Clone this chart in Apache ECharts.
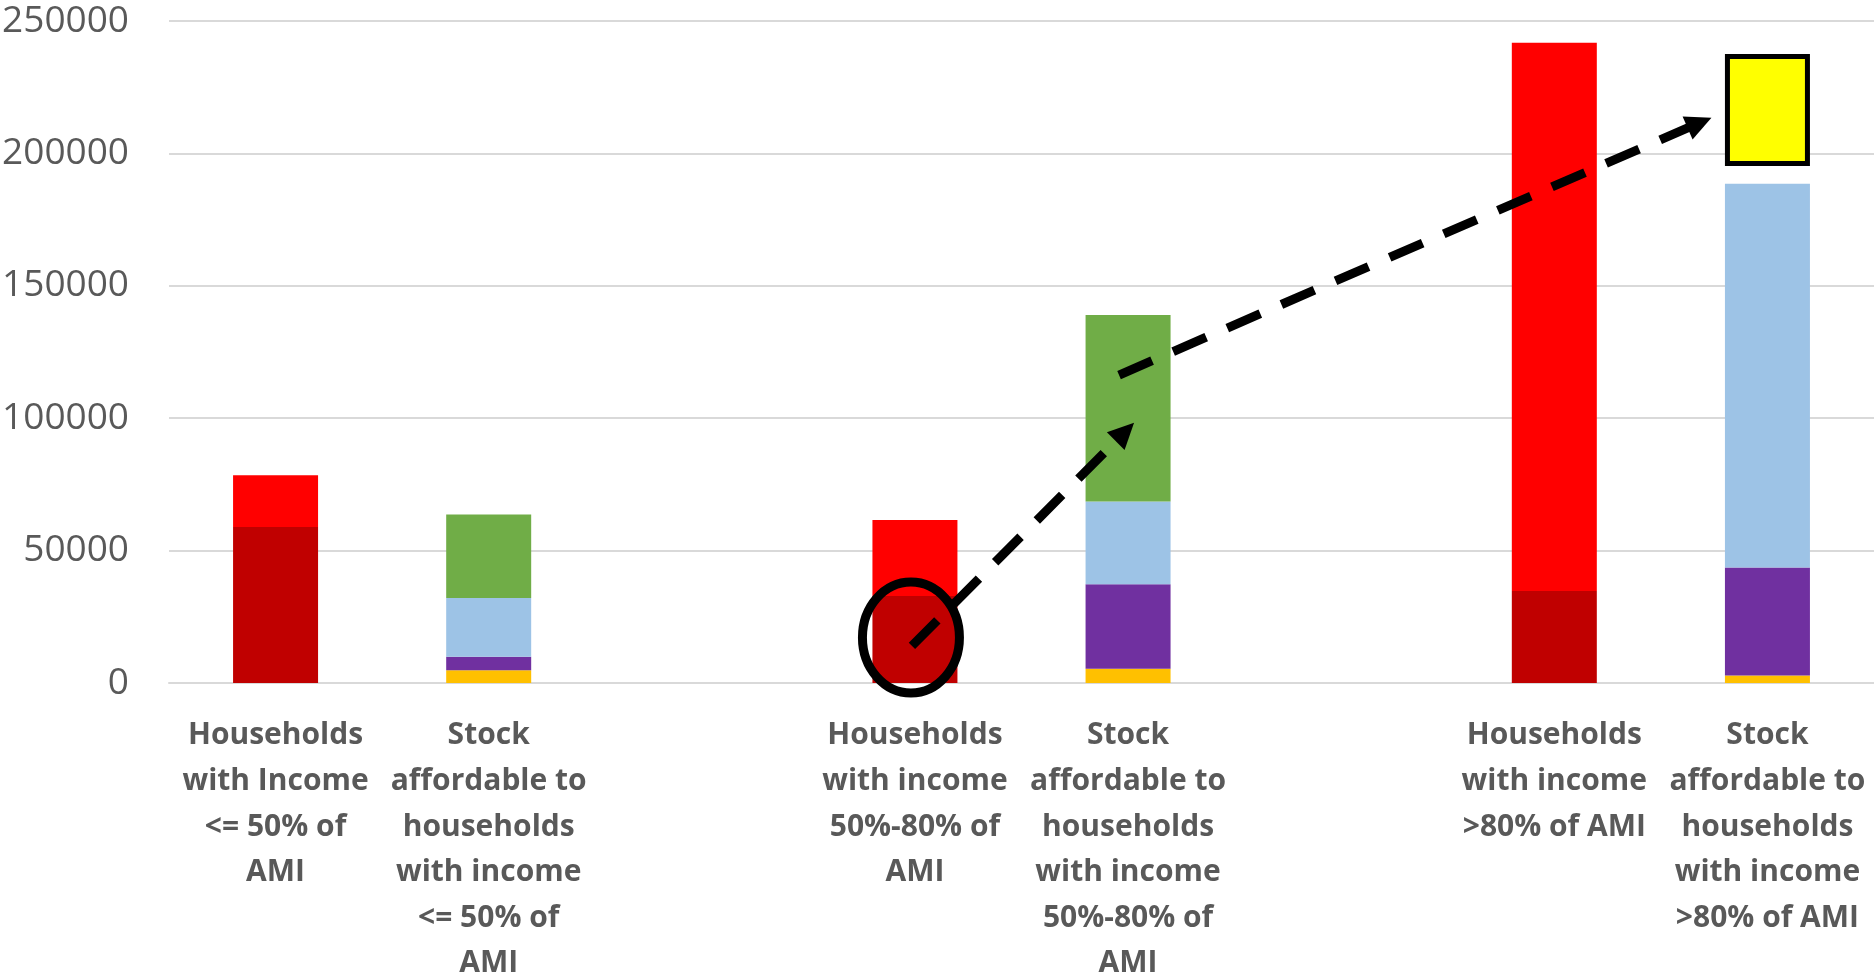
<!DOCTYPE html>
<html>
<head>
<meta charset="utf-8">
<script src="https://cdn.jsdelivr.net/npm/echarts@6/dist/echarts.min.js"></script>
<style>
html,body{margin:0;padding:0;background:#fff;}
#chart{width:1874px;height:980px;}
</style>
</head>
<body>
<div id="chart"></div>
<script>
// ---- data ----
const categories = [
  "Households\nwith Income\n<= 50% of\nAMI",
  "Stock\naffordable to\nhouseholds\nwith income\n<= 50% of\nAMI",
  " ",
  "Households\nwith income\n50%-80% of\nAMI",
  "Stock\naffordable to\nhouseholds\nwith income\n50%-80% of\nAMI",
  "  ",
  "Households\nwith income\n>80% of AMI",
  "Stock\naffordable to\nhouseholds\nwith income\n>80% of AMI"
];
const householdsLower = [58900, null, null, 32850, null, null, 34720, null];
const householdsUpper = [19600, null, null, 28700, null, null, 207100, null];
const stockGold   = [null, 4800, null, null, 5400, null, null, 2800];
const stockPurple = [null, 5100, null, null, 31900, null, null, 40800];
const stockBlue   = [null, 22200, null, null, 31200, null, null, 144900];
const stockGreen  = [null, 31500, null, null, 70500, null, null, null];
const stockGap    = [null, null, null, null, null, null, null, 6700];
const stockYellow = [null, null, null, null, null, null, null, 42300];
const yTicks = [0, 50000, 100000, 150000, 200000, 250000];

const chart = echarts.init(document.getElementById('chart'));
function bar(name, data, color, extra) {
  return Object.assign({
    name: name, type: 'bar', stack: 'all', data: data, barWidth: 85,
    itemStyle: { color: color }
  }, extra || {});
}
chart.setOption({
  animation: false,
  grid: { left: 169, right: 0, top: 21, bottom: 297, containLabel: false, outerBoundsMode: 'none' },
  xAxis: {
    type: 'category', data: categories,
    axisTick: { show: false },
    axisLine: { lineStyle: { color: '#D9D9D9', width: 2 } },
    axisLabel: {
      interval: 0, margin: 30, color: '#595959',
      fontFamily: 'Open Sans', fontWeight: 'bold', fontSize: 30, lineHeight: 45.6
    }
  },
  yAxis: {
    type: 'value', min: yTicks[0], max: yTicks[yTicks.length - 1], interval: yTicks[1] - yTicks[0],
    axisLine: { show: false }, axisTick: { show: false },
    splitLine: { lineStyle: { color: '#D9D9D9', width: 2 } },
    axisLabel: { margin: 40, color: '#595959', fontFamily: 'Open Sans', fontSize: 37,
      formatter: function (v) { return String(v); } }
  },
  series: [
    bar('Households lower', householdsLower, '#C00000'),
    bar('Households upper', householdsUpper, '#FF0000'),
    bar('Stock gold', stockGold, '#FFC000'),
    bar('Stock purple', stockPurple, '#7030A0'),
    bar('Stock blue', stockBlue, '#9DC3E6'),
    bar('Stock green', stockGreen, '#70AD47'),
    bar('Gap', stockGap, 'rgba(0,0,0,0)'),
    bar('Needed', stockYellow, '#FFFF00', { itemStyle: { color: '#FFFF00', borderColor: '#000', borderWidth: 5 } })
  ]
});

// ---- annotations positioned from data coordinates ----
function px(catIdx, value, dx) {
  const p = chart.convertToPixel({ xAxisIndex: 0, yAxisIndex: 0 }, [catIdx, value]);
  return [p[0] + (dx || 0), p[1]];
}
function arrow(start, tip) {
  const dx = tip[0] - start[0], dy = tip[1] - start[1];
  const len = Math.sqrt(dx * dx + dy * dy);
  const ux = dx / len, uy = dy / len;
  const headLen = 26, headHalf = 12.5;
  const base = [tip[0] - ux * headLen, tip[1] - uy * headLen];
  const nx = -uy, ny = ux;
  return [
    { type: 'line', z: 100,
      shape: { x1: start[0], y1: start[1], x2: base[0] + ux * 2, y2: base[1] + uy * 2 },
      style: { stroke: '#000', lineWidth: 9, lineDash: [36, 23], lineCap: 'butt' } },
    { type: 'polygon', z: 100,
      shape: { points: [tip, [base[0] + nx * headHalf, base[1] + ny * headHalf], [base[0] - nx * headHalf, base[1] - ny * headHalf]] },
      style: { fill: '#000' } }
  ];
}
const ellC = px(3, 17200, -4);
const a1s = px(3, 14000, -3), a1t = px(4, 98300, 6);
const a2s = px(4, 116300, -9), a2t = px(7, 213500, -56);
chart.setOption({
  graphic: [
    { type: 'ellipse', z: 100, shape: { cx: ellC[0], cy: ellC[1], rx: 48.5, ry: 55.5 },
      style: { fill: null, stroke: '#000', lineWidth: 9 } }
  ].concat(arrow(a1s, a1t)).concat(arrow(a2s, a2t))
});
</script>
</body>
</html>
